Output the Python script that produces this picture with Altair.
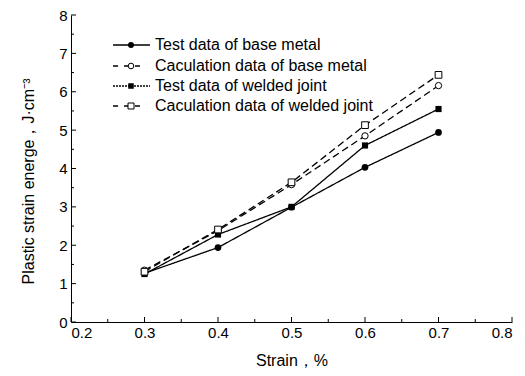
import altair as alt
import pandas as pd

strain = [0.3, 0.4, 0.5, 0.6, 0.7]
test_base = [1.27, 1.94, 2.99, 4.03, 4.94]
calc_base = [1.35, 2.38, 3.58, 4.85, 6.16]
test_weld = [1.25, 2.28, 3.00, 4.60, 5.55]
calc_weld = [1.31, 2.41, 3.64, 5.13, 6.44]

series_names = [
    "Test data of base metal",
    "Caculation data of base metal",
    "Test data of welded joint",
    "Caculation data of welded joint",
]
series_vals = [test_base, calc_base, test_weld, calc_weld]

x_major = [0.2, 0.3, 0.4, 0.5, 0.6, 0.7, 0.8]
x_minor = [0.25, 0.35, 0.45, 0.55, 0.65, 0.75]
y_major = [0, 1, 2, 3, 4, 5, 6, 7, 8]
y_minor = [0.5, 1.5, 2.5, 3.5, 4.5, 5.5, 6.5, 7.5]

x_title = "Strain，%"
y_title = "Plastic strain energe，J·cm⁻³"

FONT = "Liberation Sans"
W, H = 441, 307

styles = {
    series_names[0]: dict(dash=[1, 0], shape="circle", filled=True, size=45, ldash=[1, 0]),
    series_names[1]: dict(dash=[7, 4], shape="circle", filled=False, size=40, ldash=[5, 6]),
    series_names[2]: dict(dash=[1, 0], shape="square", filled=True, size=38, ldash=[2, 1]),
    series_names[3]: dict(dash=[7, 4], shape="square", filled=False, size=45, ldash=[5, 6]),
}

xs = alt.Scale(domain=[0.2, 0.8], nice=False, zero=False)
ys = alt.Scale(domain=[0, 8], nice=False, zero=True)

xax = alt.Axis(values=x_major, format=".1f", tickSize=0, labelPadding=3,
               labelOverlap=False, titlePadding=12, grid=False, domainColor="black",
               labelColor="black", titleColor="black",
               labelFontSize=15, titleFontSize=16, labelFont=FONT, titleFont=FONT,
               titleFontWeight="normal")
yax = alt.Axis(values=y_major, format="d", tickSize=0, labelPadding=4,
               labelOverlap=False, titlePadding=22, titleY=166, grid=False,
               domainColor="black", labelColor="black", titleColor="black",
               labelFontSize=15, titleFontSize=16, labelFont=FONT, titleFont=FONT,
               titleFontWeight="normal")


def X(field):
    return alt.X(field, scale=xs, axis=xax, title=x_title)


def Y(field):
    return alt.Y(field, scale=ys, axis=yax, title=y_title)


layers = []

layers.append(alt.Chart(pd.DataFrame({"t": x_major})).mark_rule(color="black", strokeWidth=1).encode(
    x=X("t:Q"), y=alt.value(H), y2=alt.value(H - 5)))
layers.append(alt.Chart(pd.DataFrame({"t": x_minor})).mark_rule(color="black", strokeWidth=1).encode(
    x=X("t:Q"), y=alt.value(H), y2=alt.value(H - 3)))
layers.append(alt.Chart(pd.DataFrame({"t": y_major})).mark_rule(color="black", strokeWidth=1).encode(
    y=Y("t:Q"), x=alt.value(0), x2=alt.value(5)))
layers.append(alt.Chart(pd.DataFrame({"t": y_minor})).mark_rule(color="black", strokeWidth=1).encode(
    y=Y("t:Q"), x=alt.value(0), x2=alt.value(3)))

for name, vals in zip(series_names, series_vals):
    st = styles[name]
    df = pd.DataFrame({"strain": strain, "energy": vals})
    layers.append(alt.Chart(df).mark_line(color="black", strokeWidth=1.3, strokeDash=st["dash"]).encode(
        x=X("strain:Q"), y=Y("energy:Q")))
for name, vals in zip(series_names, series_vals):
    st = styles[name]
    df = pd.DataFrame({"strain": strain, "energy": vals})
    layers.append(alt.Chart(df).mark_point(
        shape=st["shape"], size=st["size"], filled=True,
        fill="black" if st["filled"] else "white", stroke="black",
        strokeWidth=1 if not st["filled"] else 0, opacity=1).encode(
        x=X("strain:Q"), y=Y("energy:Q")))

row_y = [30, 51, 71, 91]
one = pd.DataFrame({"a": [0]})
for name, ry in zip(series_names, row_y):
    st = styles[name]
    if st["filled"]:
        x1, x2 = 42, 79
    else:
        x1, x2 = 42, 69
    layers.append(alt.Chart(one).mark_rule(color="black", strokeWidth=1.3, strokeDash=st["ldash"]).encode(
        x=alt.value(x1), x2=alt.value(x2), y=alt.value(ry)))
    layers.append(alt.Chart(one).mark_point(
        shape=st["shape"], size=st["size"] * 0.8, filled=True,
        fill="black" if st["filled"] else "white", stroke="black",
        strokeWidth=1 if not st["filled"] else 0, opacity=1).encode(
        x=alt.value(60), y=alt.value(ry)))
    layers.append(alt.Chart(pd.DataFrame({"label": [name]})).mark_text(
        align="left", baseline="middle", font=FONT, fontSize=16, color="black").encode(
        x=alt.value(84), y=alt.value(ry), text="label:N"))

chart = alt.layer(*layers).properties(
    width=W, height=H,
    autosize=alt.AutoSizeParams(type="none"),
    padding={"left": 63, "top": 7, "right": 5, "bottom": 52},
    background="white",
).configure_view(stroke=None)

chart.save("out.html", embed_options={"renderer": "svg", "actions": False})
